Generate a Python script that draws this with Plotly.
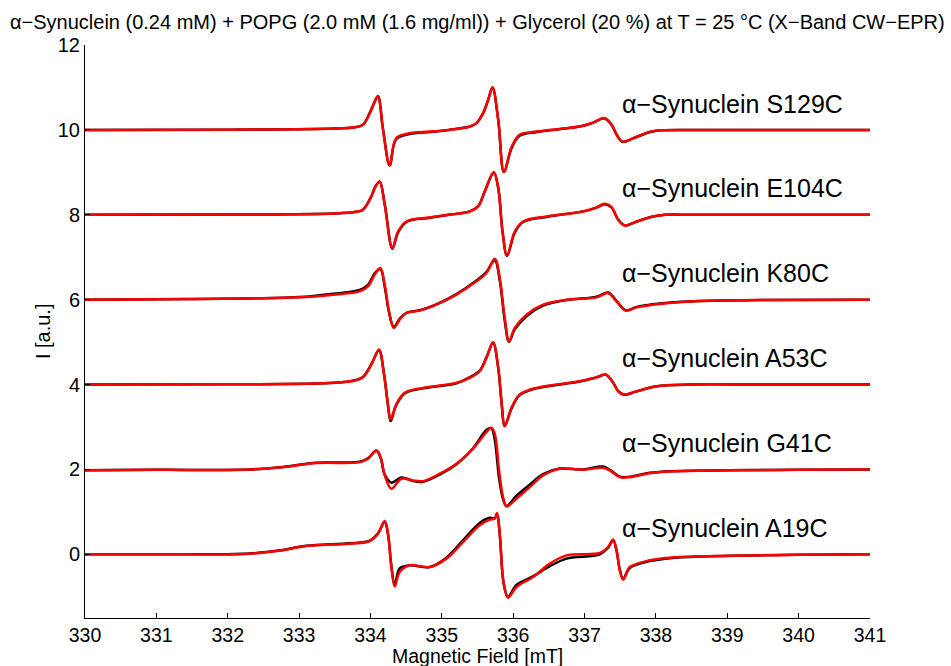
import plotly.graph_objects as go

# ---------------- data ----------------
labels = ["α−Synuclein S129C", "α−Synuclein E104C", "α−Synuclein K80C",
          "α−Synuclein A53C", "α−Synuclein G41C", "α−Synuclein A19C"]
offsets = [10, 8, 6, 4, 2, 0]

field_S129C = [330.0, 332.0, 333.5, 333.80, 333.895, 333.99, 334.05, 334.105, 334.176, 334.27, 334.36,
               334.55, 334.83, 335.10, 335.39, 335.485, 335.58, 335.65, 335.71, 335.79, 335.87, 335.98,
               336.09, 336.33, 336.93, 337.12, 337.28, 337.38, 337.45, 337.53, 337.68, 337.92, 338.06,
               338.5, 339.5, 341.0]
fit_S129C = [0.0, 0.005, 0.03, 0.07, 0.118, 0.394, 0.62, 0.80, 0.0, -0.825, -0.196,
             -0.078, -0.04, 0.0, 0.078, 0.158, 0.394, 0.707, 1.007, 0.236, -0.983, -0.394,
             -0.118, -0.04, 0.078, 0.172, 0.276, 0.118, -0.118, -0.276, -0.196, -0.04, -0.01,
             0.0, 0.0, 0.0]
exp_S129C = [0.0, 0.005, 0.03, 0.07, 0.12, 0.40, 0.63, 0.79, 0.02, -0.84, -0.22,
             -0.10, -0.05, 0.0, 0.08, 0.16, 0.40, 0.71, 0.99, 0.25, -0.99, -0.42,
             -0.14, -0.05, 0.08, 0.17, 0.27, 0.12, -0.11, -0.28, -0.20, -0.05, -0.01,
             0.0, 0.0, 0.0]

field_E104C = [330.0, 332.0, 333.5, 333.80, 333.895, 334.013, 334.07, 334.129, 334.20, 334.307, 334.386,
               334.504, 334.83, 335.10, 335.39, 335.508, 335.601, 335.728, 335.79, 335.85, 335.914,
               336.022, 336.139, 336.467, 336.98, 337.168, 337.28, 337.38, 337.47, 337.564, 337.73,
               337.96, 338.13, 338.5, 339.5, 341.0]
fit_E104C = [0.0, 0.005, 0.03, 0.07, 0.118, 0.431, 0.66, 0.785, 0.236, -0.785, -0.394,
             -0.158, -0.064, 0.0, 0.078, 0.196, 0.549, 1.007, 0.629, -0.394, -0.959,
             -0.394, -0.158, -0.04, 0.078, 0.172, 0.259, 0.172, -0.118, -0.252, -0.158,
             -0.04, 0.0, 0.0, 0.0, 0.0]
exp_E104C = [0.0, 0.005, 0.03, 0.07, 0.12, 0.44, 0.67, 0.78, 0.25, -0.80, -0.42,
             -0.17, -0.07, 0.0, 0.08, 0.20, 0.55, 0.99, 0.64, -0.38, -0.97,
             -0.42, -0.17, -0.05, 0.08, 0.17, 0.25, 0.17, -0.11, -0.25, -0.16,
             -0.04, 0.0, 0.0, 0.0, 0.0]

field_K80C = [330.0, 331.0, 332.307, 333.008, 333.474, 333.849, 333.965, 334.059, 334.139, 334.20,
              334.26, 334.326, 334.41, 334.504, 334.69, 334.924, 335.205, 335.485, 335.625, 335.742,
              335.812, 335.882, 335.942, 336.022, 336.186, 336.419, 336.747, 337.168, 337.33, 337.448,
              337.578, 337.73, 338.055, 338.616, 339.5, 341.0]
fit_K80C = [0.0, 0.01, 0.03, 0.054, 0.118, 0.196, 0.314, 0.589, 0.747, 0.354,
            -0.276, -0.667, -0.471, -0.314, -0.259, -0.118, 0.118, 0.431, 0.629, 0.966,
            0.512, -0.431, -0.983, -0.667, -0.354, -0.118, 0.0, 0.054, 0.158, -0.04,
            -0.259, -0.182, -0.1, -0.03, -0.01, 0.0]
exp_K80C = [0.0, 0.01, 0.03, 0.06, 0.14, 0.23, 0.35, 0.62, 0.72, 0.30,
            -0.30, -0.64, -0.45, -0.31, -0.25, -0.11, 0.13, 0.45, 0.65, 0.93,
            0.45, -0.50, -0.99, -0.70, -0.39, -0.14, -0.01, 0.07, 0.17, -0.03,
            -0.25, -0.17, -0.09, -0.03, -0.01, 0.0]

field_A53C = [330.0, 332.0, 333.5, 333.80, 333.895, 334.013, 334.119, 334.19, 334.246, 334.283,
              334.36, 334.48, 334.736, 335.205, 335.39, 335.531, 335.625, 335.718, 335.79, 335.836,
              335.882, 335.976, 336.092, 336.326, 336.933, 337.168, 337.298, 337.40, 337.47, 337.55,
              337.73, 338.01, 338.5, 339.5, 341.0]
fit_A53C = [0.0, 0.005, 0.04, 0.10, 0.172, 0.471, 0.825, 0.236, -0.471, -0.825,
            -0.471, -0.196, -0.078, 0.04, 0.158, 0.314, 0.629, 0.998, 0.394, -0.394,
            -0.983, -0.549, -0.236, -0.078, 0.078, 0.172, 0.236, 0.04, -0.158, -0.236,
            -0.158, -0.04, 0.0, 0.0, 0.0]
exp_A53C = [0.0, 0.005, 0.04, 0.11, 0.18, 0.48, 0.81, 0.25, -0.50, -0.86,
            -0.49, -0.21, -0.09, 0.03, 0.17, 0.33, 0.64, 0.98, 0.40, -0.40,
            -0.97, -0.57, -0.25, -0.09, 0.07, 0.17, 0.23, 0.05, -0.15, -0.24,
            -0.16, -0.04, 0.0, 0.0, 0.0]

field_G41C = [330.0, 331.0, 332.307, 332.773, 333.242, 333.849, 333.965, 334.083, 334.143, 334.20,
              334.293, 334.434, 334.596, 334.736, 334.971, 335.205, 335.437, 335.625, 335.695,
              335.742, 335.802, 335.858, 335.906, 336.046, 336.232, 336.419, 336.653, 336.98, 337.26,
              337.354, 337.494, 337.635, 337.915, 338.195, 339.0, 340.0, 341.0]
fit_G41C = [-0.02, -0.01, 0.0, 0.054, 0.149, 0.172, 0.252, 0.448, 0.29, -0.141,
            -0.455, -0.219, -0.259, -0.276, -0.101, 0.134, 0.488, 0.88, 0.983,
            0.842, -0.024, -0.653, -0.872, -0.691, -0.417, -0.141, 0.016, -0.007, 0.04,
            -0.024, -0.182, -0.182, -0.087, -0.047, -0.02, -0.01, 0.0]
exp_G41C = [-0.02, -0.01, 0.0, 0.06, 0.16, 0.18, 0.26, 0.44, 0.27, -0.12,
            -0.31, -0.19, -0.27, -0.29, -0.12, 0.12, 0.50, 0.93, 0.97,
            0.70, -0.20, -0.70, -0.86, -0.62, -0.36, -0.11, 0.02, 0.0, 0.07,
            -0.01, -0.17, -0.17, -0.08, -0.04, -0.02, -0.01, 0.0]

field_A19C = [330.0, 331.0, 332.307, 332.773, 333.008, 333.242, 333.709, 333.989, 334.105, 334.20,
              334.246, 334.293, 334.34, 334.41, 334.55, 334.83, 335.064, 335.297, 335.531, 335.672,
              335.742, 335.774, 335.812, 335.868, 335.928, 336.046, 336.279, 336.513, 336.747, 337.214,
              337.33, 337.40, 337.448, 337.494, 337.541, 337.635, 337.915, 338.195, 338.616, 340.0,
              341.0]
fit_A19C = [0.0, 0.0, 0.016, 0.094, 0.172, 0.212, 0.252, 0.314, 0.488, 0.785,
            0.488, -0.299, -0.754, -0.417, -0.259, -0.299, -0.101, 0.29, 0.684, 0.818,
            0.842, 0.974, 0.488, -0.691, -1.021, -0.771, -0.535, -0.219, -0.024, 0.031,
            0.172, 0.347, 0.094, -0.377, -0.596, -0.299, -0.141, -0.078, -0.047, -0.012,
            0.0]
exp_A19C = [0.0, 0.0, 0.02, 0.10, 0.18, 0.22, 0.26, 0.32, 0.49, 0.76,
            0.47, -0.27, -0.72, -0.33, -0.26, -0.30, -0.08, 0.33, 0.74, 0.86,
            0.85, 0.95, 0.45, -0.70, -1.00, -0.72, -0.52, -0.28, -0.10, 0.0,
            0.16, 0.33, 0.09, -0.36, -0.58, -0.32, -0.16, -0.09, -0.05, -0.01,
            0.0]

fields = [field_S129C, field_E104C, field_K80C, field_A53C, field_G41C, field_A19C]
fits = [fit_S129C, fit_E104C, fit_K80C, fit_A53C, fit_G41C, fit_A19C]
exps = [exp_S129C, exp_E104C, exp_K80C, exp_A53C, exp_G41C, exp_A19C]

x_ticks = list(range(330, 342))
y_ticks = [0, 2, 4, 6, 8, 10, 12]
title_text = "α−Synuclein (0.24 mM) + POPG (2.0 mM (1.6 mg/ml)) + Glycerol (20 %) at T = 25 °C (X−Band CW−EPR)"

# ---------------- figure ----------------
FONT = "Liberation Sans, Arial, Helvetica, sans-serif"
fig = go.Figure()
for f, e, r, off in zip(fields, exps, fits, offsets):
    fig.add_trace(go.Scatter(x=f, y=[v + off for v in e], mode="lines",
                             line=dict(color="black", width=2.5, shape="spline", smoothing=1.0),
                             hoverinfo="skip", showlegend=False))
    fig.add_trace(go.Scatter(x=f, y=[v + off for v in r], mode="lines",
                             line=dict(color="#ff0000", width=2.5, shape="spline", smoothing=1.0),
                             hoverinfo="skip", showlegend=False))

annotations = []
for lab, off in zip(labels, offsets):
    annotations.append(dict(x=337.5, y=off + 0.62, xref="x", yref="y", text=lab, showarrow=False,
                            xanchor="left", yanchor="middle", font=dict(size=25, color="black", family=FONT)))
annotations.append(dict(x=0.5, y=-0.0663, xref="paper", yref="paper", text="Magnetic Field [mT]",
                        showarrow=False, xanchor="center", yanchor="middle",
                        font=dict(size=19.5, color="black", family=FONT)))
annotations.append(dict(x=-0.054, y=0.5, xref="paper", yref="paper", text="I [a.u.]", textangle=-90,
                        showarrow=False, xanchor="center", yanchor="middle",
                        font=dict(size=20, color="black", family=FONT)))
annotations.append(dict(x=0.5, y=1.0401, xref="paper", yref="paper", text=title_text,
                        showarrow=False, xanchor="center", yanchor="middle",
                        font=dict(size=20, color="black", family=FONT)))

fig.update_layout(
    width=951, height=666, autosize=False,
    margin=dict(l=85, r=81, t=45, b=48),
    paper_bgcolor="white", plot_bgcolor="white",
    font=dict(family=FONT, size=20, color="black"),
    annotations=annotations, showlegend=False,
)
fig.update_xaxes(range=[330, 341], tickvals=x_ticks, ticktext=[str(t) for t in x_ticks],
                 ticks="inside", ticklen=5, tickcolor="black", showline=True, linecolor="black",
                 linewidth=1, showgrid=False, zeroline=False, mirror=False,
                 tickfont=dict(size=19.5, family=FONT, color="black"))
fig.update_yaxes(range=[-1.5, 12], tickvals=y_ticks, ticktext=[str(t) for t in y_ticks],
                 ticks="inside", ticklen=5, tickcolor="black", showline=True, linecolor="black",
                 linewidth=1, showgrid=False, zeroline=False, mirror=False,
                 tickfont=dict(size=20, family=FONT, color="black"))

fig.write_html("out.html")
